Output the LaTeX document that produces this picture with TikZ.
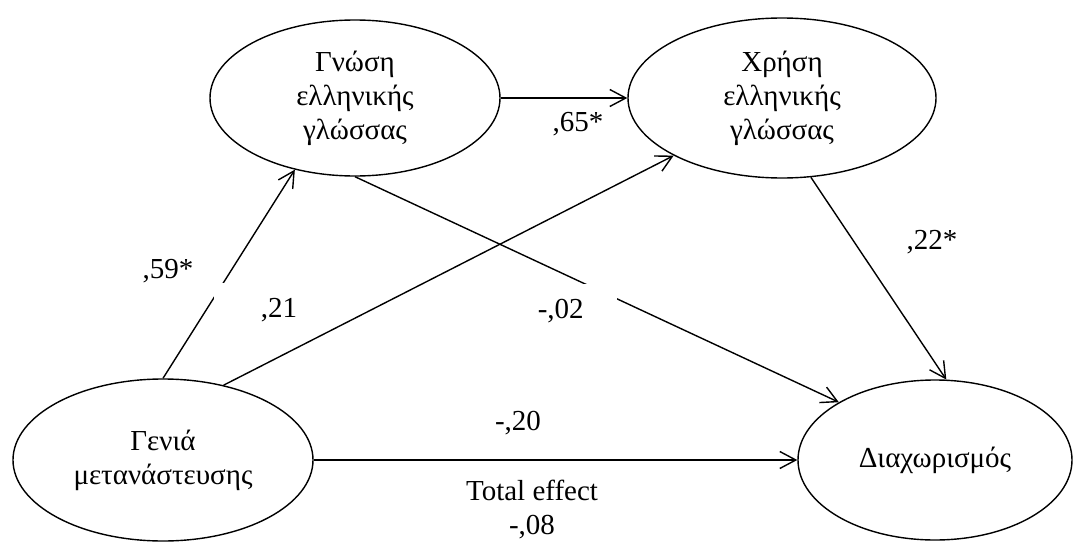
\documentclass[tikz,border=0pt]{standalone}
\usepackage{fontspec}
\setmainfont{Liberation Serif}
\usetikzlibrary{shapes.geometric,arrows.meta}
\begin{document}
\begin{tikzpicture}[x=1pt,y=-1pt,
  font=\fontsize{29}{34}\selectfont,
  ell/.style={draw, ellipse, line width=1.4pt, inner sep=0pt, align=center},
  arr/.style={line width=1.4pt, -{Straight Barb[length=16pt,width=17pt]}},
  lab/.style={inner sep=2pt},
  coverlab/.style={fill=white, inner sep=3pt, minimum height=54pt}]
\useasboundingbox (0,0) rectangle (1073,543);
% latent variables
\node[ell, minimum width=290pt, minimum height=156pt] (gno) at (355,98) {Γνώση\\ελληνικής\\γλώσσας};
\node[ell, minimum width=308pt, minimum height=160pt] (xri) at (782,98) {Χρήση\\ελληνικής\\γλώσσας};
\node[ell, minimum width=300pt, minimum height=162pt] (gen) at (163,460) {Γενιά\\μετανάστευσης};
\node[ell, minimum width=274pt, minimum height=160pt] (dia) at (935,460) {Διαχωρισμός};
% paths
\draw[arr] (gno.east) -- (gno.east -| xri.west);
\draw[arr] (gen.north) -- (gno.230);
\draw[arr] (gen.51) -- (xri.208);
\draw[arr] (gno.south) -- (dia.149);
\draw[arr] (xri.290) -- (dia.82);
\draw[arr] (gen.east) -- (gen.east -| dia.west);
% coefficients
\node[lab] (l65) at (578,124) {,65*};
\node[lab] (l59) at (168,271) {,59*};
\node[coverlab, anchor=north west, text width=80pt, align=right] (l21) at (214,283) {,21};
\node[coverlab, anchor=north east, text width=76pt, align=left] (l02) at (617,284) {-,02};
\node[lab] (l22) at (932,242) {,22*};
\node[lab] (l20) at (518,423) {-,20};
\node[lab, align=center] (ltot) at (532,510) {Total effect\\-,08};
\end{tikzpicture}
\end{document}
